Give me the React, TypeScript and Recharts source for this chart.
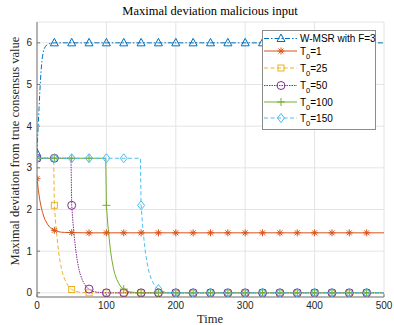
import { LineChart, Line, XAxis, YAxis, CartesianGrid, Legend } from "recharts"

const xTicks = [0, 100, 200, 300, 400, 500]
const yTicks = [0, 1, 2, 3, 4, 5, 6]

// W-MSR with F=3
const wmsrTime = [0, 1, 2, 3, 4, 5, 6, 7, 8, 9, 10, 12, 14, 16, 20, 25, 50, 75, 100, 125, 150, 175, 200, 225, 250, 275, 300, 325, 350, 375, 400, 425, 450, 475, 500]
const wmsrDev = [3.35, 3.75, 4.12, 4.45, 4.8, 5.1, 5.35, 5.55, 5.68, 5.78, 5.84, 5.91, 5.95, 5.97, 5.99, 6, 6, 6, 6, 6, 6, 6, 6, 6, 6, 6, 6, 6, 6, 6, 6, 6, 6, 6, 6]

// T0 = 1
const t1Time = [0, 2, 4, 6, 8, 10, 12, 15, 18, 21, 25, 30, 35, 40, 50, 75, 100, 125, 150, 175, 200, 225, 250, 275, 300, 325, 350, 375, 400, 425, 450, 475, 500]
const t1Dev = [2.74, 2.46, 2.23, 2.06, 1.93, 1.82, 1.74, 1.65, 1.58, 1.54, 1.5, 1.47, 1.455, 1.45, 1.445, 1.44, 1.44, 1.44, 1.44, 1.44, 1.44, 1.44, 1.44, 1.44, 1.44, 1.44, 1.44, 1.44, 1.44, 1.44, 1.44, 1.44, 1.44]

// T0 = 25
const t25Time = [0, 24, 25, 27, 29, 31, 33, 35, 37, 40, 43, 46, 50, 55, 60, 65, 75, 100, 125, 150, 175, 200, 225, 250, 275, 300, 325, 350, 375, 400, 425, 450, 475, 500]
const t25Dev = [3.23, 3.23, 2.1, 1.65, 1.3, 1.0, 0.78, 0.6, 0.46, 0.32, 0.22, 0.14, 0.08, 0.04, 0.02, 0.01, 0, 0, 0, 0, 0, 0, 0, 0, 0, 0, 0, 0, 0, 0, 0, 0, 0, 0]

// T0 = 50
const t50Time = [0, 25, 49, 50, 52, 54, 56, 58, 60, 62, 65, 68, 71, 75, 80, 85, 90, 100, 125, 150, 175, 200, 225, 250, 275, 300, 325, 350, 375, 400, 425, 450, 475, 500]
const t50Dev = [3.23, 3.23, 3.23, 2.1, 1.65, 1.3, 1.0, 0.78, 0.6, 0.46, 0.32, 0.22, 0.14, 0.09, 0.04, 0.02, 0.01, 0, 0, 0, 0, 0, 0, 0, 0, 0, 0, 0, 0, 0, 0, 0, 0, 0]

// T0 = 100
const t100Time = [0, 25, 50, 75, 99, 100, 102, 104, 106, 108, 110, 112, 115, 118, 121, 125, 130, 135, 140, 150, 175, 200, 225, 250, 275, 300, 325, 350, 375, 400, 425, 450, 475, 500]
const t100Dev = [3.23, 3.23, 3.23, 3.23, 3.23, 2.1, 1.65, 1.3, 1.0, 0.78, 0.6, 0.46, 0.32, 0.22, 0.14, 0.09, 0.04, 0.02, 0.01, 0, 0, 0, 0, 0, 0, 0, 0, 0, 0, 0, 0, 0, 0, 0]

// T0 = 150
const t150Time = [0, 25, 50, 75, 100, 125, 149, 150, 152, 154, 156, 158, 160, 162, 165, 168, 171, 175, 180, 185, 190, 200, 225, 250, 275, 300, 325, 350, 375, 400, 425, 450, 475, 500]
const t150Dev = [3.23, 3.23, 3.23, 3.23, 3.23, 3.23, 3.23, 2.1, 1.65, 1.3, 1.0, 0.78, 0.6, 0.46, 0.32, 0.22, 0.14, 0.09, 0.04, 0.02, 0.01, 0, 0, 0, 0, 0, 0, 0, 0, 0, 0, 0, 0, 0]

const toRows = (time: number[], dev: number[]) => time.map((t, i) => ({ t, v: dev[i] }))

type Marker = "triangle" | "star" | "square" | "circle" | "plus" | "diamond"

const series: { id: string; label: string; sub?: string; data: { t: number; v: number }[]; color: string; dash?: string; marker: Marker }[] = [
  { id: "wmsr", label: "W-MSR with F=3", data: toRows(wmsrTime, wmsrDev), color: "#0072BD", dash: "5 2 1.5 2", marker: "triangle" },
  { id: "t1", label: "=1", sub: "0", data: toRows(t1Time, t1Dev), color: "#D95319", marker: "star" },
  { id: "t25", label: "=25", sub: "0", data: toRows(t25Time, t25Dev), color: "#EDB120", dash: "4 2.5", marker: "square" },
  { id: "t50", label: "=50", sub: "0", data: toRows(t50Time, t50Dev), color: "#7E2F8E", dash: "1.5 1", marker: "circle" },
  { id: "t100", label: "=100", sub: "0", data: toRows(t100Time, t100Dev), color: "#77AC30", marker: "plus" },
  { id: "t150", label: "=150", sub: "0", data: toRows(t150Time, t150Dev), color: "#4DBEEE", dash: "4 2.5", marker: "diamond" },
]

function drawMarker(marker: Marker, x: number, y: number, color: string, key?: string) {
  const p = { stroke: color, strokeWidth: 1, fill: "none" }
  switch (marker) {
    case "triangle":
      return <polygon key={key} points={`${x},${y - 4.5} ${x - 4},${y + 3} ${x + 4},${y + 3}`} {...p} />
    case "star":
      return (
        <path key={key} d={`M${x - 3.5},${y}H${x + 3.5}M${x},${y - 3.5}V${y + 3.5}M${x - 2.5},${y - 2.5}L${x + 2.5},${y + 2.5}M${x - 2.5},${y + 2.5}L${x + 2.5},${y - 2.5}`} {...p} />
      )
    case "square":
      return <rect key={key} x={x - 3} y={y - 3} width={6} height={6} {...p} />
    case "circle":
      return <circle key={key} cx={x} cy={y} r={4} {...p} />
    case "plus":
      return <path key={key} d={`M${x - 4},${y}H${x + 4}M${x},${y - 4}V${y + 4}`} {...p} />
    case "diamond":
      return <polygon key={key} points={`${x},${y - 4.5} ${x + 3.5},${y} ${x},${y + 4.5} ${x - 3.5},${y}`} {...p} />
  }
}

// legend row centres, relative to the legend box
const legendRows = [8.5, 21, 38, 55.5, 72, 88]

const sans = "Arial, Helvetica, sans-serif"
const serif = "'Liberation Serif', 'Times New Roman', serif"

function LegendBox() {
  return (
    <svg width={114} height={100} style={{ display: "block" }}>
      <rect x={0.5} y={0.5} width={113} height={99} fill="#fff" stroke="#8c8c8c" />
      {series.map((s, i) => {
        const y = legendRows[i]
        return (
          <g key={s.id}>
            <line x1={2} x2={35} y1={y} y2={y} stroke={s.color} strokeDasharray={s.dash} />
            {drawMarker(s.marker, 19, y, s.color)}
            {s.sub ? (
              <text x={38} y={y + 3.5} style={{ fontSize: 10, fontFamily: sans }} fill="#000">
                T<tspan dy={4} style={{ fontSize: 7.5 }}>{s.sub}</tspan>
                <tspan dy={-4}>{s.label}</tspan>
              </text>
            ) : (
              <text x={38} y={y + 3.5} style={{ fontSize: 10, fontFamily: sans }} fill="#000">
                {s.label}
              </text>
            )}
          </g>
        )
      })}
    </svg>
  )
}

const tickStyle = { fontSize: 10, fontFamily: sans, fill: "#262626" }

export default function App() {
  return (
    <div style={{ position: "absolute", left: 0, top: 0, width: 394, height: 325, background: "#fff" }}>
      <div
        style={{
          position: "absolute",
          left: 0,
          top: 3,
          width: 420,
          textAlign: "center",
          fontFamily: serif,
          fontSize: 12.5,
          color: "#000",
          lineHeight: "16px",
        }}
      >
        Maximal deviation malicious input
      </div>
      <LineChart width={394} height={325} margin={{ top: 22, right: 10, bottom: 8, left: 7 }}>
        <CartesianGrid stroke="#e4e4e4" strokeWidth={1} />
        <XAxis
          dataKey="t"
          type="number"
          domain={[0, 500]}
          ticks={xTicks}
          height={20}
          tickSize={-3}
          tickMargin={8}
          tick={tickStyle}
          stroke="#777"
          allowDataOverflow
          label={{
            content: () => (
              <text x={210} y={323} textAnchor="middle" style={{ fontSize: 12.5, fontFamily: serif }} fill="#262626">
                Time
              </text>
            ),
          }}
        />
        <XAxis xAxisId="top" orientation="top" type="number" domain={[0, 500]} ticks={xTicks} height={0} tickSize={-3} tickFormatter={() => ""} stroke="#777" />
        <YAxis
          type="number"
          domain={[-0.1, 6.5]}
          ticks={yTicks}
          width={30}
          tickSize={-3}
          tickMargin={8}
          tick={tickStyle}
          stroke="#777"
          allowDataOverflow
          label={{
            content: () => (
              <text x={19} y={151} transform="rotate(-90 19 151)" textAnchor="middle" style={{ fontSize: 12.5, fontFamily: serif }} fill="#262626">
                Maximal deviation from true consensus value
              </text>
            ),
          }}
        />
        <YAxis yAxisId="right" orientation="right" type="number" domain={[-0.1, 6.5]} ticks={yTicks} width={0} tickSize={-3} tickFormatter={() => ""} stroke="#777" />
        {series.map((s) => (
          <Line
            key={s.id}
            data={s.data}
            dataKey="v"
            type="linear"
            stroke={s.color}
            strokeWidth={1}
            strokeDasharray={s.dash}
            isAnimationActive={false}
            activeDot={false}
            dot={(props: any) => {
              const { cx, cy, payload, index } = props
              if (payload.t % 25 !== 0 || payload.t >= 500) return <g key={`${s.id}-d${index}`} />
              return drawMarker(s.marker, cx, cy, s.color, `${s.id}-d${index}`)
            }}
          />
        ))}
        <Legend
          layout="horizontal"
          verticalAlign="middle"
          align="center"
          content={() => <LegendBox />}
          wrapperStyle={{ left: 262, top: 30, width: 114, height: 100, margin: 0, padding: 0 }}
        />
      </LineChart>
    </div>
  )
}
